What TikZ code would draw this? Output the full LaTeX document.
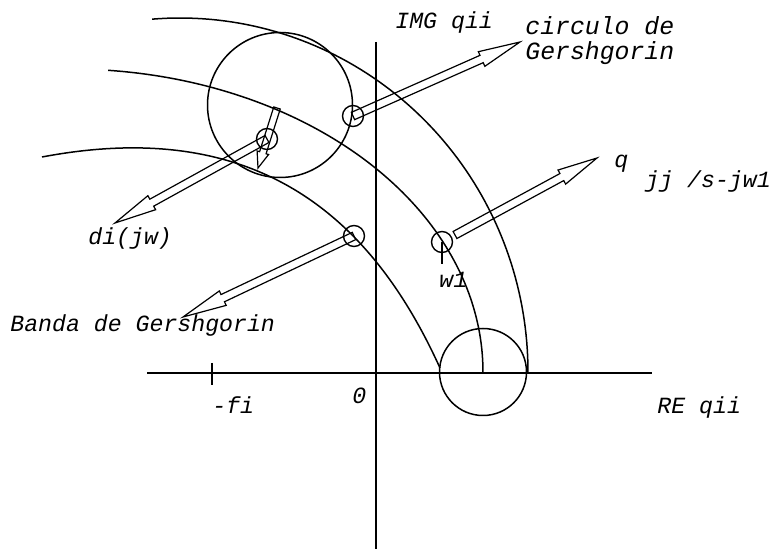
\documentclass[tikz,border=0pt]{standalone}
\usepackage{fontspec}
\newfontfamily\monofont{Liberation Mono}
\usetikzlibrary{calc}
\tikzset{
  % thin lines of the band and circles
  band/.style={line width=0.75pt},
  axis/.style={line width=0.9pt},
  % small circle that marks a point
  ring/.style={circle, draw, line width=0.7pt, minimum size=10.5pt, inner sep=0pt},
  hollow/.style={line width=0.6pt, line join=miter},
  lbl/.style={font=\monofont\itshape\fontsize{11.6}{14}\selectfont, inner sep=0pt, anchor=base west},
  biglbl/.style={lbl, font=\monofont\itshape\fontsize{12.4}{14}\selectfont},
}
% hollow arrow: from, to, half shaft, half head, head length
\newcommand\hollowarrow[5]{%
  \coordinate (hb) at ($(#2)!#5!(#1)$);
  \draw[hollow] ($(#1)!#3!90:(#2)$) -- ($(hb)!#3!-90:(#1)$) -- ($(hb)!#4!-90:(#1)$)
    -- (#2) -- ($(hb)!#4!90:(#1)$) -- ($(hb)!#3!90:(#1)$) -- ($(#1)!#3!-90:(#2)$) -- cycle;
}

\begin{document}
\begin{tikzpicture}[x=0.5pt,y=-0.5pt]
  \useasboundingbox (0,0) rectangle (777,549);
  % Draw the axes
  \draw[axis] (147,373) -- (652,373);
  \draw[axis] (376,42) -- (376,549);
  \draw[axis] (212,363) -- (212,385);
  % Draw the band
  \draw[band] plot[domain=94.6:0, samples=80] ({180+348*cos(\x)},{372-354*sin(\x)});
  \draw[band] plot[domain=84.7:0, samples=80] ({70+413*cos(\x)},{372-303*sin(\x)});
  \draw[band] (42,157) .. controls (258,116) and (372,218) .. (440,368);
  % Draw the circles
  \draw[band] (280,105) circle (72.5);
  \draw[band] (483,372) circle (43.5);
  % Marked points
  \node[ring] (gc) at (353,116) {};
  \node[ring] (di) at (267,139) {};
  \node[ring] (bd) at (354,236) {};
  \node[ring] (w) at (442,242) {};
  % Draw the arrows
  \coordinate (gctip) at (520,42);
  \hollowarrow{gc}{gctip}{2pt}{4pt}{21pt}
  \coordinate (ditip) at (115,223);
  \hollowarrow{di}{ditip}{2pt}{4pt}{21pt}
  \coordinate (bdtip) at (183,317);
  \hollowarrow{bd}{bdtip}{2pt}{4pt}{22pt}
  \coordinate (qtail) at (455,235);
  \coordinate (qtip) at (597,158);
  \hollowarrow{qtail}{qtip}{2pt}{4pt}{20pt}
  \coordinate (rtail) at (277,108);
  \coordinate (rtip) at (258,168);
  \hollowarrow{rtail}{rtip}{1.7pt}{3pt}{8pt}
  \draw[band] (w.center) -- (442,264);
  % Labels
  \node[lbl] (img) at (395,29) {IMG qii};
  \node[biglbl] (circ) at (525,35) {circulo de};
  \node[biglbl] (gers) at (525,60) {Gershgorin};
  \node[lbl] (q) at (614,168) {q};
  \node[lbl] (jj) at (645,188) {jj /s-jw1};
  \node[lbl] (dij) at (88,245) {di(jw)};
  \node[lbl] (w1) at (439,288) {w1};
  \node[lbl] (banda) at (10,332) {Banda de Gershgorin};
  \node[lbl] (zero) at (352,404) {0};
  \node[lbl] (fi) at (212,414) {-fi};
  \node[lbl] (re) at (657,414) {RE qii};
\end{tikzpicture}
\end{document}
